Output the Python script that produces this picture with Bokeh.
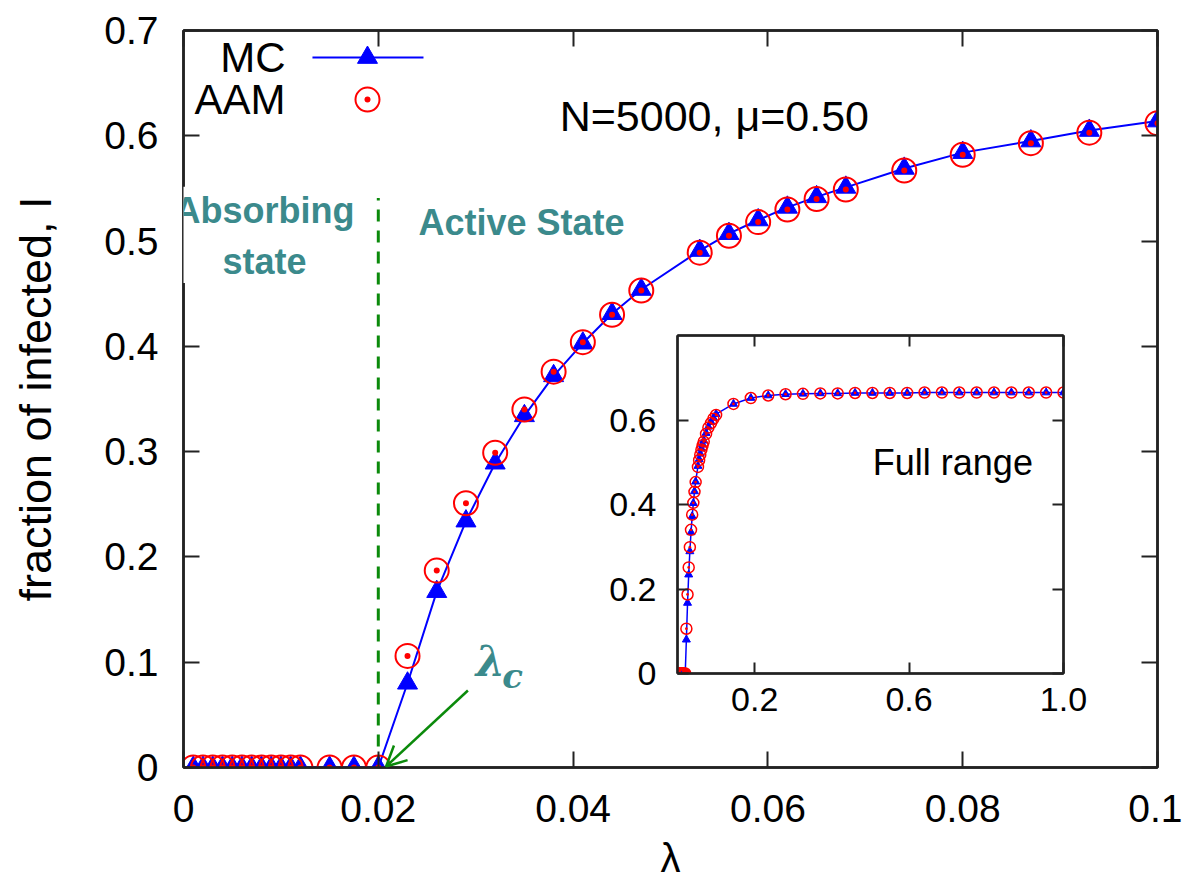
from bokeh.plotting import figure
from bokeh.layouts import column
from bokeh.models import FixedTicker, LinearAxis, Range1d, Label, Arrow, OpenHead
from bokeh.embed import file_html
from bokeh.resources import INLINE

# ---------------- data ----------------
# subcritical region (I = 0)
lam_low = [0.001, 0.002, 0.003, 0.004, 0.005, 0.006, 0.007, 0.008, 0.009,
           0.010, 0.011, 0.012, 0.015, 0.0175, 0.020]
I_low = [0.0] * len(lam_low)

# active region
lam_act = [0.023, 0.026, 0.029, 0.032, 0.035, 0.038, 0.041, 0.044, 0.047,
           0.053, 0.056, 0.059, 0.062, 0.065, 0.068, 0.074, 0.080, 0.087,
           0.093, 0.100]
I_aam_act = [0.106, 0.187, 0.251, 0.299, 0.340, 0.376, 0.404, 0.430, 0.453,
             0.489, 0.505, 0.518, 0.530, 0.540, 0.549, 0.567, 0.582, 0.593,
             0.603, 0.612]
I_mc_act = [0.080, 0.167, 0.234, 0.289, 0.334, 0.372, 0.403, 0.431, 0.454,
            0.491, 0.507, 0.520, 0.532, 0.542, 0.551, 0.569, 0.584, 0.595,
            0.605, 0.614]

# extension to the full range of lambda (inset)
lam_full = [0.145, 0.190, 0.235, 0.280, 0.325, 0.370, 0.415, 0.460, 0.505,
            0.550, 0.595, 0.640, 0.685, 0.730, 0.775, 0.820, 0.865, 0.910,
            0.955, 1.000]
I_full = [0.638, 0.652, 0.658, 0.661, 0.662, 0.663, 0.663, 0.664, 0.664,
          0.664, 0.664, 0.665, 0.665, 0.665, 0.665, 0.665, 0.665, 0.665,
          0.665, 0.665]

lam_c = 0.020
x_ticks = [0, 0.02, 0.04, 0.06, 0.08, 0.1]
x_tick_labels = ["0", "0.02", "0.04", "0.06", "0.08", "0.1"]
y_ticks = [0, 0.1, 0.2, 0.3, 0.4, 0.5, 0.6, 0.7]
y_tick_labels = ["0", "0.1", "0.2", "0.3", "0.4", "0.5", "0.6", "0.7"]
inset_x_ticks = [0.2, 0.6, 1.0]
inset_x_labels = ["0.2", "0.6", "1.0"]
inset_y_ticks = [0, 0.2, 0.4, 0.6]
inset_y_labels = ["0", "0.2", "0.4", "0.6"]

lam_main = lam_low + lam_act
I_mc = I_low + I_mc_act
I_aam = I_low + I_aam_act
lam_all = lam_main + lam_full
I_mc_all = I_mc + I_full
I_aam_all = I_aam + I_full

BLUE = "#0000ff"
RED = "#ff0000"
TEAL = "#3b8a8c"
GREEN = "#0b8a0b"
FONT = "Liberation Sans"

# ---------------- main panel ----------------
p = figure(width=1182, height=890, output_backend="svg", toolbar_location=None,
           x_range=Range1d(0, 0.1), y_range=Range1d(0, 0.7),
           min_border_left=183, min_border_right=25, min_border_top=30,
           min_border_bottom=123, x_axis_label="λ",
           y_axis_label="fraction of infected, I")
p.grid.visible = False
p.outline_line_color = "#222222"
p.outline_line_width = 2.5


def style_axis(ax, ticks, labels, size, tick_len, show_labels=True):
    ax.ticker = FixedTicker(ticks=ticks)
    ax.major_label_overrides = {t: l for t, l in zip(ticks, labels)}
    ax.minor_tick_line_color = None
    ax.major_tick_in = tick_len
    ax.major_tick_out = 0
    ax.major_tick_line_width = 2
    ax.major_tick_line_color = "#222222"
    ax.axis_line_width = 2.5
    ax.axis_line_color = "#222222"
    ax.major_label_text_font = FONT
    ax.major_label_text_color = "black"
    if show_labels:
        ax.major_label_text_font_size = size
    else:
        # mirrored tick marks only
        ax.major_label_text_font_size = "0px"
        ax.major_label_text_color = None
        ax.major_label_standoff = 0


style_axis(p.xaxis[0], x_ticks, x_tick_labels, "39px", 16)
style_axis(p.yaxis[0], y_ticks, y_tick_labels, "39px", 16)
p.xaxis[0].major_label_standoff = 27
p.yaxis[0].major_label_standoff = 25
for ax in (p.xaxis[0], p.yaxis[0]):
    ax.axis_label_text_font = FONT
    ax.axis_label_text_font_style = "normal"
    ax.axis_label_text_color = "black"
p.xaxis[0].axis_label_text_font_size = "40px"
p.xaxis[0].axis_label_text_line_height = 0.8
p.xaxis[0].axis_label_standoff = 11
p.yaxis[0].axis_label_text_font_size = "45px"
p.yaxis[0].axis_label_standoff = 40

top_ax = LinearAxis()
right_ax = LinearAxis()
style_axis(top_ax, x_ticks, x_tick_labels, "0px", 16, show_labels=False)
style_axis(right_ax, y_ticks, y_tick_labels, "0px", 16, show_labels=False)
p.add_layout(top_ax, "above")
p.add_layout(right_ax, "right")

# critical point marker line and arrow
p.segment(x0=[lam_c], y0=[0], x1=[lam_c], y1=[0.541], line_color=GREEN,
          line_width=3, line_dash="12 9")
p.add_layout(Arrow(end=OpenHead(size=20, line_color=GREEN, line_width=2.5),
                   x_start=0.0292, y_start=0.0731, x_end=0.0208, y_end=0.001,
                   line_color=GREEN, line_width=2.5))

# series
p.line(lam_main, I_mc, line_color=BLUE, line_width=2)
p.scatter(lam_main, I_mc, marker="triangle", size=20, fill_color=BLUE,
          line_color=BLUE)
p.scatter(lam_main, I_aam, marker="circle_dot", size=24, fill_color=None,
          line_color=RED, line_width=2)

# legend (text on the left, sample on the right)
p.segment(x0=[0.01324], y0=[0.6743], x1=[0.02464], y1=[0.6743],
          line_color=BLUE, line_width=2)
p.scatter([0.01889], [0.6743], marker="triangle", size=20, fill_color=BLUE,
          line_color=BLUE)
p.scatter([0.01889], [0.6344], marker="circle_dot", size=24, fill_color=None,
          line_color=RED, line_width=2)


def add_label(x, y, text, size, color="black", style="normal", align="left",
              font=FONT, **kw):
    p.add_layout(Label(x=x, y=y, text=text, text_font=font,
                       text_font_size=size, text_color=color,
                       text_font_style=style, text_align=align,
                       text_baseline="middle", **kw))


add_label(0.01047, 0.6745, "MC", "42px", align="right")
add_label(0.01047, 0.6344, "AAM", "42px", align="right")
add_label(0.0545, 0.6192, "N=5000, μ=0.50", "43px", align="center")
add_label(0.00739, 0.5058, "Absorbing\nstate", "36px", TEAL, "bold", "center",
          background_fill_color="white", text_line_height=1.25,
          padding=dict(top=3, right=12, bottom=1, left=30))
add_label(0.0347, 0.5176, "Active State", "36px", TEAL, "bold", "center")
add_label(0.03152, 0.1007, "λ", "42px", TEAL, "bold italic", "center",
          "DejaVu Serif")
add_label(0.03378, 0.0873, "c", "34px", TEAL, "bold italic", "center",
          "DejaVu Serif")

# ---------------- inset: full range ----------------
# the column aligns plot frames, so the inset shares the main panel's
# side borders and is shifted left to compensate
inset = figure(width=594, height=403, output_backend="svg",
               toolbar_location=None, x_range=Range1d(0, 1),
               y_range=Range1d(0, 0.8), min_border_left=183,
               min_border_right=25, min_border_top=10, min_border_bottom=55,
               background_fill_color="white", border_fill_color=None,
               styles={"position": "absolute", "left": "494px",
                       "top": "325px"})
inset.grid.visible = False
inset.outline_line_color = "#222222"
inset.outline_line_width = 2
style_axis(inset.xaxis[0], inset_x_ticks, inset_x_labels, "34px", 11)
style_axis(inset.yaxis[0], inset_y_ticks, inset_y_labels, "34px", 11)
inset.xaxis[0].major_label_standoff = 14
inset.yaxis[0].major_label_standoff = 21
itop = LinearAxis()
iright = LinearAxis()
style_axis(itop, inset_x_ticks, inset_x_labels, "0px", 11, show_labels=False)
style_axis(iright, inset_y_ticks, inset_y_labels, "0px", 11, show_labels=False)
inset.add_layout(itop, "above")
inset.add_layout(iright, "right")

inset.line(lam_all, I_mc_all, line_color=BLUE, line_width=1.5)
inset.scatter(lam_all, I_mc_all, marker="triangle", size=8, fill_color=BLUE,
              line_color=BLUE)
inset.scatter(lam_all, I_aam_all, marker="circle_dot", size=11,
              fill_color=None, line_color=RED, line_width=1.5)
inset.add_layout(Label(x=0.506, y=0.499, text="Full range", text_font=FONT,
                       text_font_size="36px", text_color="black",
                       text_baseline="middle"))

layout = column(p, inset)
open("out.html", "w").write(file_html(layout, INLINE))
